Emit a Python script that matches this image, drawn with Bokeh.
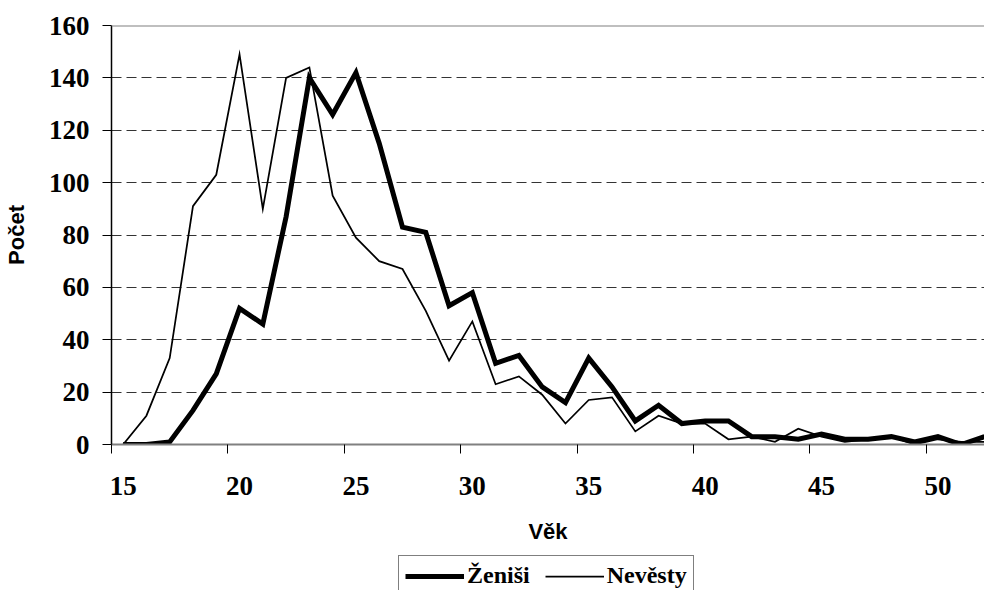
from bokeh.plotting import figure
from bokeh.layouts import column
from bokeh.models import Range1d, FixedTicker, Legend, LegendItem, Span
from bokeh.embed import file_html
from bokeh.resources import INLINE

# ---- data ----
ages = list(range(15, 53))
zenisi = [0, 0, 1, 13, 27, 52, 46, 87, 140, 126, 142, 115, 83, 81, 53, 58, 31, 34, 22, 16,
          33, 22, 9, 15, 8, 9, 9, 3, 3, 2, 4, 2, 2, 3, 1, 3, 0, 3]
nevesty = [0, 11, 33, 91, 103, 149, 90, 140, 144, 95, 79, 70, 67, 51, 32, 47, 23, 26, 19, 8,
           17, 18, 5, 11, 8, 8, 2, 3, 1, 6, 3, 1, 2, 3, 0, 2, 1, 1]
x_tick_labels = [15, 20, 25, 30, 35, 40, 45, 50]
y_ticks = [0, 20, 40, 60, 80, 100, 120, 140, 160]
series_names = ["Ženiši", "Nevěsty"]

THICK = dict(line_width=5, line_color="black", line_join="miter")
THIN = dict(line_width=1.75, line_color="black", line_join="miter")

p = figure(width=984, height=550, output_backend="svg", toolbar_location=None,
           x_range=Range1d(14.5, 52.0), y_range=Range1d(0, 160),
           min_border_left=110, min_border_right=0, min_border_top=25,
           min_border_bottom=106, background_fill_color="white",
           border_fill_color="white")
p.outline_line_color = None

r1 = p.line(ages, zenisi, **THICK)
r2 = p.line(ages, nevesty, **THIN)

# top border of the plot area
p.add_layout(Span(location=160, dimension="width", line_color="#808080", line_width=2))

# grid
p.xgrid.visible = False
p.ygrid.ticker = FixedTicker(ticks=y_ticks[1:-1])
p.ygrid.grid_line_color = "#333333"
p.ygrid.grid_line_dash = "10 5"
p.ygrid.grid_line_width = 1

# x axis: labels at category centres, tick marks at category boundaries
xa = p.xaxis[0]
xa.ticker = FixedTicker(ticks=x_tick_labels, minor_ticks=[t - 0.5 for t in x_tick_labels])
xa.major_tick_out = 0
xa.major_tick_in = 0
xa.minor_tick_out = 9
xa.minor_tick_in = 0
xa.minor_tick_line_color = "black"
xa.axis_line_color = "#808080"
xa.axis_line_width = 2
xa.major_label_text_font = "Liberation Serif"
xa.major_label_text_font_style = "bold"
xa.major_label_text_font_size = "27px"
xa.major_label_text_color = "black"
xa.major_label_standoff = 23
xa.axis_label = "Věk"
xa.axis_label_text_font = "Liberation Sans"
xa.axis_label_text_font_style = "bold"
xa.axis_label_text_font_size = "22px"
xa.axis_label_text_color = "black"
xa.axis_label_standoff = 21

ya = p.yaxis[0]
ya.ticker = FixedTicker(ticks=y_ticks)
ya.major_tick_out = 9
ya.major_tick_in = 0
ya.minor_tick_out = 0
ya.minor_tick_in = 0
ya.major_tick_line_color = "black"
ya.axis_line_color = "black"
ya.axis_line_width = 1.5
ya.major_label_text_font = "Liberation Serif"
ya.major_label_text_font_style = "bold"
ya.major_label_text_font_size = "27px"
ya.major_label_text_color = "black"
ya.major_label_standoff = 13
ya.axis_label = "Počet"
ya.axis_label_text_font = "Liberation Sans"
ya.axis_label_text_font_style = "bold"
ya.axis_label_text_font_size = "22px"
ya.axis_label_text_color = "black"
ya.axis_label_standoff = 17

# ---- legend strip below the chart (same series, outside this strip's ranges) ----
p2 = figure(width=984, height=40, output_backend="svg", toolbar_location=None,
            x_range=Range1d(0, 1), y_range=Range1d(0, 1),
            min_border_left=0, min_border_right=0, min_border_top=0,
            min_border_bottom=0, x_axis_type=None, y_axis_type=None,
            background_fill_color="white", border_fill_color="white")
p2.outline_line_color = None
p2.xgrid.visible = False
p2.ygrid.visible = False
l1 = p2.line(ages, zenisi, **THICK)
l2 = p2.line(ages, nevesty, **THIN)

legend = Legend(items=[LegendItem(label=series_names[0], renderers=[l1]),
                       LegendItem(label=series_names[1], renderers=[l2])],
                orientation="horizontal", location=(287, -6), margin=0,
                padding=6, spacing=15, label_standoff=3, glyph_width=59,
                glyph_height=20, border_line_color="black", border_line_width=1,
                background_fill_color="white", background_fill_alpha=1)
legend.label_text_font = "Liberation Serif"
legend.label_text_font_style = "bold"
legend.label_text_font_size = "24px"
legend.label_text_color = "black"
p2.add_layout(legend, "center")

layout = column(p, p2, spacing=0)

with open("out.html", "w") as f:
    f.write(file_html(layout, INLINE))
